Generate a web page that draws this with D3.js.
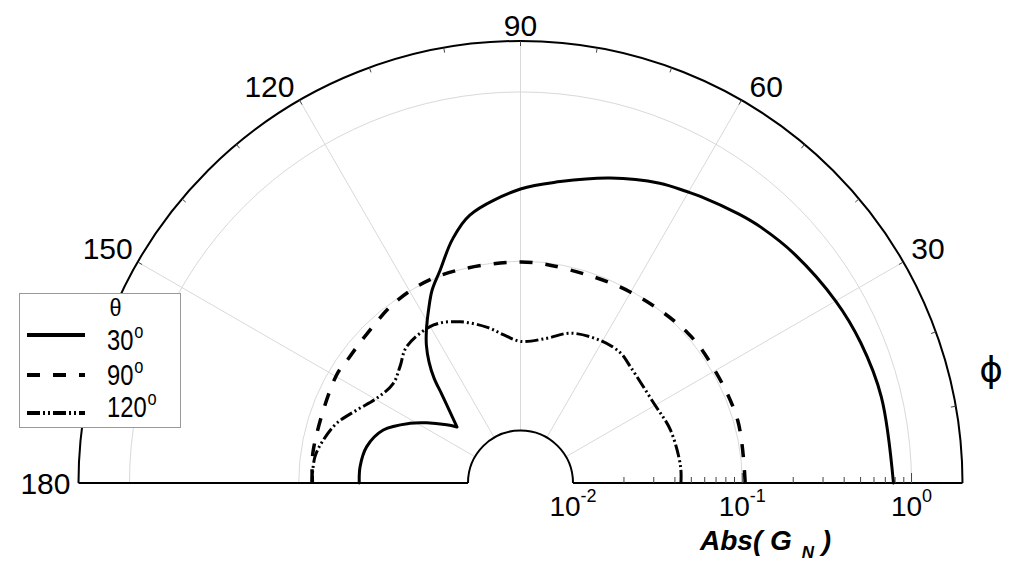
<!DOCTYPE html>
<html>
<head>
<meta charset="utf-8">
<script src="https://cdn.jsdelivr.net/npm/d3@7"></script>
<style>
  html, body { margin: 0; padding: 0; background: #fff; }
  svg { display: block; }
</style>
</head>
<body>
<svg id="chart" width="1011" height="561"></svg>
<script>
// Azimuth phi (degrees) and |G_N| for each polar angle theta
const phiTheta30 = [0, 13.4, 22.4, 30, 40, 46.8, 50.9, 57.9, 60.3, 65.1, 73.6, 82.5, 90, 100.7, 105.7, 110.7, 114.6, 118.0, 121.6, 124.3, 127.1, 129.5, 131.7, 134.8, 138.6, 141.8, 147.3, 151.6, 158.9, 166.7, 174.2, 180];
const gTheta30   = [0.782, 0.761, 0.731, 0.692, 0.629, 0.580, 0.545, 0.489, 0.470, 0.439, 0.370, 0.306, 0.267, 0.200, 0.152, 0.108, 0.0879, 0.0703, 0.0563, 0.0475, 0.0385, 0.0311, 0.0243, 0.0191, 0.0155, 0.0176, 0.0223, 0.0270, 0.0362, 0.0420, 0.0439, 0.0439];
const cuspIndex30 = 24;

const phiTheta90 = [0, 16, 31, 42, 60, 77, 90, 111, 124, 136, 144, 150, 171, 180];
const gTheta90   = [0.104, 0.106, 0.104, 0.104, 0.098, 0.096, 0.099, 0.101, 0.098, 0.090, 0.088, 0.089, 0.085, 0.083];

const phiTheta120 = [0, 6, 19.5, 31, 46.5, 52.4, 60.6, 71.5, 79.7, 90, 96.4, 102, 110.4, 118.8, 129.9, 136, 141.9, 149.5, 156, 162, 167.7, 172.7, 180];
const gTheta120   = [0.0434, 0.0437, 0.0426, 0.0405, 0.0431, 0.0456, 0.0452, 0.0420, 0.0362, 0.0336, 0.0372, 0.0426, 0.0508, 0.0569, 0.0548, 0.0478, 0.0441, 0.0474, 0.0561, 0.0679, 0.0762, 0.0820, 0.0838];

const angleTickLabels = [180, 150, 120, 90, 60, 30];
const spokeAngles = [30, 60, 90, 120, 150];
const radialGridValues = [0.1, 1];
const radialTickExponents = [-2, -1, 0];
const legendTitle = "θ";
const legendLabels = ["30", "90", "120"];
const radialDomain = [0.01, 2];

// geometry
const cx = 520.5, cy = 483, R = 442, R0 = 52.5;
const svg = d3.select("#chart");
const rScale = d3.scaleLog().domain(radialDomain).range([R0, R]);
const aScale = d3.scaleLinear().domain([0, 180]).range([Math.PI / 2, -Math.PI / 2]);
const rad = d => d * Math.PI / 180;
const pt = (phi, rr) => [rr * Math.cos(rad(phi)), -rr * Math.sin(rad(phi))];

const g = svg.append("g").attr("transform", `translate(${cx},${cy})`);

// light grid: rings and spokes
const grid = g.append("g").attr("fill", "none").attr("stroke", "#d9d9d9").attr("stroke-width", 1);
radialGridValues.forEach(v => {
  const p = d3.path();
  p.arc(0, 0, rScale(v), Math.PI, 2 * Math.PI);
  grid.append("path").attr("d", p.toString());
});
spokeAngles.forEach(phi => {
  const [x1, y1] = pt(phi, R0), [x2, y2] = pt(phi, R);
  grid.append("line").attr("x1", x1).attr("y1", y1).attr("x2", x2).attr("y2", y2);
});

// frame: outer arc, inner arc, baseline
const frame = g.append("g").attr("fill", "none").attr("stroke", "#000");
{
  const p = d3.path(); p.arc(0, 0, R, Math.PI, 2 * Math.PI);
  frame.append("path").attr("d", p.toString()).attr("stroke-width", 2);
  const q = d3.path(); q.arc(0, 0, R0, Math.PI, 2 * Math.PI);
  frame.append("path").attr("d", q.toString()).attr("stroke-width", 2);
  frame.append("line").attr("x1", -R).attr("x2", -R0).attr("y1", 0).attr("y2", 0).attr("stroke-width", 2);
  frame.append("line").attr("x1", R0).attr("x2", R).attr("y1", 0).attr("y2", 0).attr("stroke-width", 2);
}

// azimuth ticks on outer arc
d3.range(10, 180, 10).forEach(phi => {
  const [x1, y1] = pt(phi, R - 5), [x2, y2] = pt(phi, R);
  frame.append("line").attr("x1", x1).attr("y1", y1).attr("x2", x2).attr("y2", y2)
    .attr("stroke", "#444").attr("stroke-width", 1);
});

// radial ticks along the right baseline
rScale.ticks().forEach(v => {
  if (v <= radialDomain[0] || v >= radialDomain[1]) return;
  const major = Math.abs(Math.log10(v) - Math.round(Math.log10(v))) < 1e-9;
  const x = rScale(v);
  frame.append("line").attr("x1", x).attr("x2", x).attr("y1", 0).attr("y2", major ? -10 : -6)
    .attr("stroke", "#444").attr("stroke-width", 1);
});

// curves
const line = d3.lineRadial()
  .angle(d => aScale(d[0]))
  .radius(d => rScale(d[1]))
  .curve(d3.curveCatmullRom.alpha(0.5));

const s30 = d3.zip(phiTheta30, gTheta30);
const s90 = d3.zip(phiTheta90, gTheta90);
const s120 = d3.zip(phiTheta120, gTheta120);

const curves = g.append("g").attr("fill", "none").attr("stroke", "#000");
curves.append("path")
  .attr("d", line(s30.slice(0, cuspIndex30 + 1)) + line(s30.slice(cuspIndex30)))
  .attr("stroke-width", 3).attr("stroke-linecap", "round").attr("stroke-linejoin", "round");
curves.append("path").attr("d", line(s90))
  .attr("stroke-width", 3.5).attr("stroke-dasharray", "13,13");
curves.append("path").attr("d", line(s120))
  .attr("stroke-width", 3).attr("stroke-dasharray", "13,3,2,3,2,3");

// azimuth labels, anchored just outside the outer arc
const labelFont = "'Liberation Sans', Arial, Helvetica, sans-serif";
angleTickLabels.forEach(phi => {
  const c = Math.cos(rad(phi)), s = Math.sin(rad(phi));
  const [x, y] = pt(phi, R);
  const t = svg.append("text")
    .attr("font-family", labelFont).attr("font-size", 30)
    .text(phi);
  if (Math.abs(c) < 0.01) {
    t.attr("text-anchor", "middle").attr("x", cx + x).attr("y", cy + y - 5);
  } else if (s < 0.01) {
    t.attr("text-anchor", c > 0 ? "start" : "end").attr("x", cx + x + Math.sign(c) * 8)
      .attr("y", cy + y).attr("dy", "0.36em");
  } else {
    t.attr("text-anchor", c > 0 ? "start" : "end").attr("x", cx + x + (c > 0 ? 8 : -5))
      .attr("y", cy + y - 3);
  }
});

// radial labels 10^k
radialTickExponents.forEach(k => {
  const x = cx + rScale(Math.pow(10, k));
  const t = svg.append("text")
    .attr("font-family", labelFont).attr("font-size", 28)
    .attr("text-anchor", "middle").attr("x", x).attr("y", 516);
  t.append("tspan").text("10");
  t.append("tspan").attr("font-size", 18).attr("dy", -14).text(String(k));
});

// axis title
{
  const t = svg.append("text")
    .attr("font-family", labelFont).attr("font-size", 28)
    .attr("font-weight", "bold").attr("font-style", "italic")
    .attr("x", 700).attr("y", 550);
  t.append("tspan").text("Abs( G");
  t.append("tspan").attr("font-size", 17).attr("dx", 10).attr("dy", 8).text("N");
  t.append("tspan").attr("dy", -8).text(" )");
}

// azimuth symbol
svg.append("text")
  .attr("font-family", "'DejaVu Sans', sans-serif").attr("font-size", 36)
  .attr("text-anchor", "middle").attr("x", 991).attr("y", 382)
  .text("ϕ");

// legend
const lg = svg.append("g");
lg.append("rect").attr("x", 19.5).attr("y", 293.5).attr("width", 161).attr("height", 134)
  .attr("fill", "#fff").attr("stroke", "#999").attr("stroke-width", 1);
lg.append("text").attr("font-family", labelFont).attr("font-size", 24)
  .attr("text-anchor", "middle").attr("transform", "translate(115.5,316) scale(0.9,1)")
  .text(legendTitle);
const legendLineY = [335, 375, 413];
const legendTextY = [350, 385, 417];
const legendDash = [null, "13,13", "13,3,2,3,2,3"];
legendLabels.forEach((lab, i) => {
  const l = lg.append("line").attr("x1", 27).attr("x2", 85)
    .attr("y1", legendLineY[i]).attr("y2", legendLineY[i])
    .attr("stroke", "#000").attr("stroke-width", 4);
  if (legendDash[i]) l.attr("stroke-dasharray", legendDash[i]);
  const t = lg.append("text").attr("font-family", labelFont).attr("font-size", 29)
    .attr("transform", `translate(107,${legendTextY[i]}) scale(0.82,1)`);
  t.append("tspan").text(lab);
  t.append("tspan").attr("font-size", 20).attr("dx", 1).attr("dy", -12).text("o");
});
</script>
</body>
</html>
